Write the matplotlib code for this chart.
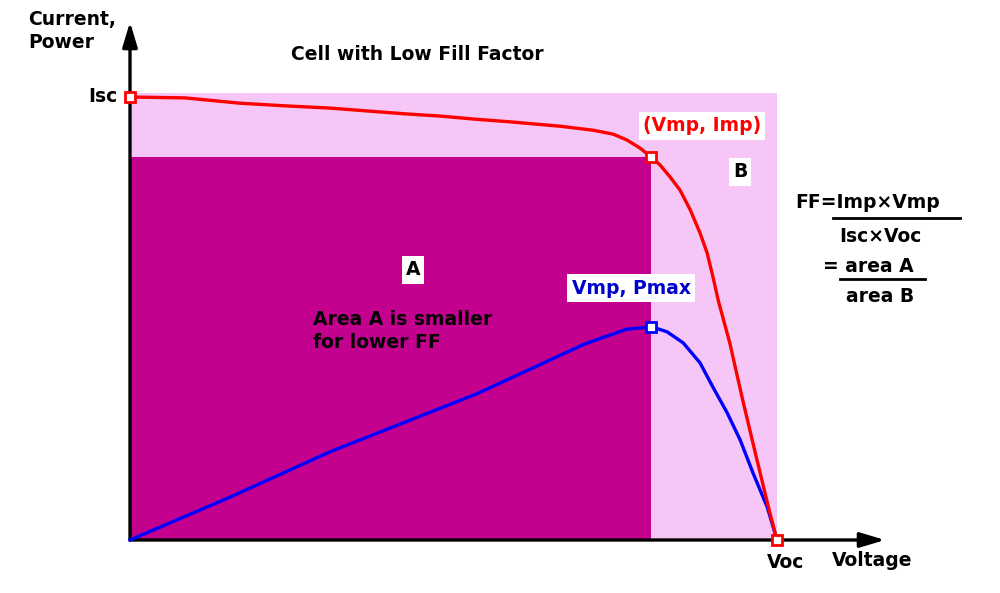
import numpy as np
import matplotlib
matplotlib.use("Agg")
import matplotlib.pyplot as plt
from matplotlib.patches import Rectangle

# normalised units: voltage / Voc, current (and power) / Isc
v_iv = [0.0, 0.085, 0.170, 0.240, 0.309, 0.371, 0.425, 0.479, 0.533, 0.587,
        0.665, 0.716, 0.747, 0.768, 0.788, 0.805, 0.819, 0.835, 0.850, 0.866,
        0.881, 0.892, 0.901, 0.909, 0.927, 0.947, 0.969, 0.989, 1.0]
i_iv = [1.0, 0.998, 0.986, 0.980, 0.975, 0.968, 0.962, 0.957, 0.950, 0.944,
        0.934, 0.925, 0.916, 0.903, 0.885, 0.865, 0.847, 0.819, 0.790, 0.745,
        0.693, 0.648, 0.594, 0.542, 0.445, 0.316, 0.181, 0.061, 0.0]

v_pw = [0.0, 0.155, 0.309, 0.536, 0.702, 0.768, 0.807, 0.830, 0.855, 0.881,
        0.901, 0.923, 0.943, 0.963, 0.985, 1.0]
p_pw = [0.0, 0.097, 0.199, 0.330, 0.442, 0.476, 0.481, 0.470, 0.445, 0.400,
        0.345, 0.287, 0.226, 0.151, 0.074, 0.0]

isc, voc = 1.0, 1.0
vmp, imp, pmax = 0.805, 0.865, 0.481
box_top = 1.01

light = '#F6C6F6'
dark = '#C4008F'

plt.rcParams['font.family'] = ['DejaVu Sans']
plt.rcParams['font.weight'] = 'bold'

fig = plt.figure(figsize=(10, 5.93), dpi=100)
ax = fig.add_axes([0.130, 53 / 593, 0.755, 518 / 593])
ax.set_xlim(0, 755 / 647)
ax.set_ylim(0, 518 / 443)
ax.axis('off')

# area B (light) and area A (dark)
ax.add_patch(Rectangle((0, 0), voc, box_top, color=light, lw=0, zorder=1))
ax.add_patch(Rectangle((0, 0), vmp, imp, color=dark, lw=0, zorder=2))

# axes with arrow heads
arrow = dict(arrowstyle='-|>,head_length=1.5,head_width=0.45',
             lw=2.4, color='black', shrinkA=0, shrinkB=0)
ax.annotate('', xy=(1, 0), xytext=(0, 0), xycoords='axes fraction',
            arrowprops=arrow, zorder=5)
ax.annotate('', xy=(0, 1), xytext=(0, 0), xycoords='axes fraction',
            arrowprops=arrow, zorder=5)

# curves
ax.plot(v_pw, p_pw, color='#0000FF', lw=2.4, zorder=6, clip_on=False,
        solid_joinstyle='round')
ax.plot(v_iv, i_iv, color='#FF0000', lw=2.4, zorder=7, clip_on=False,
        solid_joinstyle='round')

mk = dict(marker='s', ms=7, mfc='white', mew=2, ls='none', zorder=8,
          clip_on=False)
ax.plot([0, vmp, voc], [isc, imp, 0], mec='#FF0000', **mk)
ax.plot([vmp], [pmax], mec='#0000FF', **mk)

fs = 13.5
white = dict(facecolor='white', edgecolor='none', pad=3)

fig.text(0.028, 1 - 10 / 593, 'Current,\nPower', ha='left', va='top',
         fontsize=fs, linespacing=1.3)
ax.text(-0.02, isc, 'Isc', ha='right', va='center', fontsize=fs)
fig.text(0.417, 1 - 54 / 593, 'Cell with Low Fill Factor', ha='center',
         va='center', fontsize=fs)
ax.text((702 - 130) / 647, (540 - 126) / 443, '(Vmp, Imp)', color='#FF0000',
        ha='center', va='center', fontsize=fs, bbox=white, zorder=9)
ax.text((740 - 130) / 647, (540 - 172) / 443, 'B', ha='center', va='center',
        fontsize=fs, bbox=white, zorder=9)
ax.text((413 - 130) / 647, (540 - 270) / 443, 'A', ha='center', va='center',
        fontsize=fs, bbox=white, zorder=9)
ax.text((313 - 130) / 647, (540 - 331) / 443, 'Area A is smaller\nfor lower FF',
        ha='left', va='center', fontsize=fs, linespacing=1.3, zorder=9)
ax.text((631 - 130) / 647, (540 - 288) / 443, 'Vmp, Pmax', color='#0000CC',
        ha='center', va='center', fontsize=fs, bbox=white, zorder=9)
ax.text(voc + 0.013, -0.05, 'Voc', ha='center', va='center', fontsize=fs,
        clip_on=False)
fig.text(0.872, 1 - 561 / 593, 'Voltage', ha='center', va='center',
         fontsize=fs)

# fill factor formula
fig.text(0.795, 1 - 203 / 593, 'FF=Imp\u00d7Vmp', ha='left', va='center',
         fontsize=fs)
fig.add_artist(plt.Line2D([0.833, 0.960], [1 - 218 / 593] * 2, color='black',
                          lw=2))
fig.text(0.880, 1 - 236 / 593, 'Isc\u00d7Voc', ha='center', va='center',
         fontsize=fs)
fig.text(0.823, 1 - 267 / 593, '= area A', ha='left', va='center',
         fontsize=fs)
fig.add_artist(plt.Line2D([0.840, 0.925], [1 - 279 / 593] * 2, color='black',
                          lw=2))
fig.text(0.880, 1 - 296 / 593, 'area B', ha='center', va='center',
         fontsize=fs)

fig.savefig('out.png', dpi=100, facecolor='white')
